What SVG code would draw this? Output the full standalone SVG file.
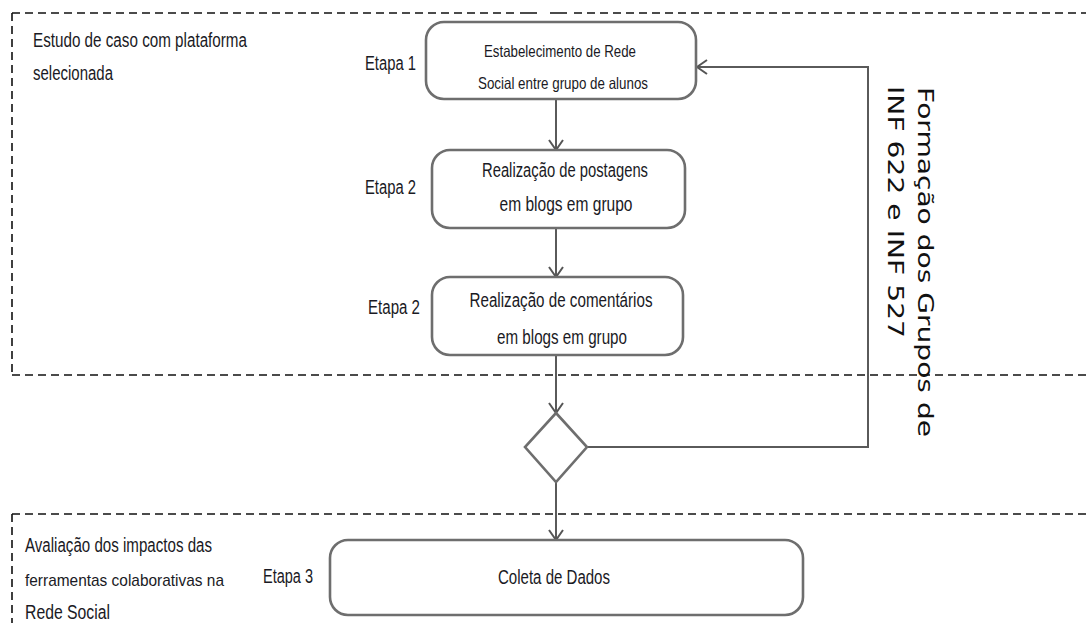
<svg xmlns="http://www.w3.org/2000/svg" width="1086" height="623" viewBox="0 0 1086 623">
  <defs>
    <marker id="arrow" viewBox="0 0 12 16" refX="11" refY="8" markerWidth="12" markerHeight="16" markerUnits="userSpaceOnUse" orient="auto">
      <path d="M1,1 L11,8 L1,15" fill="none" stroke="#555" stroke-width="2"/>
    </marker>
  </defs>
  <style>
    .dash { fill: none; stroke: #111; stroke-width: 1.6; stroke-dasharray: 8 5; }
    .solid { fill: none; stroke: #111; stroke-width: 1.6; }
    .box { fill: #fff; stroke: #6e6e6e; stroke-width: 2.6; }
    .conn { fill: none; stroke: #5a5a5a; stroke-width: 2; }
    .t { font-family: "Liberation Sans", Arial, sans-serif; fill: #1a1a24; }
    .lbl { font-size: 19.5px; }
    .small { font-size: 16.5px; }
    .mid { font-size: 19.5px; }
    .rot { font-family: "DejaVu Sans", Verdana, sans-serif; font-size: 21px; fill: #111; }
  </style>

  <rect width="1086" height="623" fill="#fff"/>

  <!-- swimlane frames -->
  <g id="lane-estudo">
    <path class="dash" d="M12,13 H514"/>
    <path class="solid" d="M520,13 H537 M550,13 H567"/>
    <path class="dash" d="M574,13 H1086"/>
    <path class="dash" d="M12,13 V375"/>
    <path class="dash" d="M12,375 H1086"/>
    <text class="t lbl" x="33" y="47" textLength="214" lengthAdjust="spacingAndGlyphs">Estudo de caso com plataforma</text>
    <text class="t lbl" x="33" y="80" textLength="80" lengthAdjust="spacingAndGlyphs">selecionada</text>
  </g>
  <g id="lane-avaliacao">
    <path class="dash" d="M12,514 H1086"/>
    <path class="dash" d="M12,514 V623"/>
    <text class="t lbl" x="25" y="552" textLength="187" lengthAdjust="spacingAndGlyphs">Avaliação dos impactos das</text>
    <text class="t" font-size="17" x="25" y="586" textLength="199" lengthAdjust="spacingAndGlyphs">ferramentas colaborativas na</text>
    <text class="t lbl" x="25" y="619" textLength="85" lengthAdjust="spacingAndGlyphs">Rede Social</text>
  </g>

  <!-- connectors -->
  <g id="connectors">
    <path class="conn" d="M556,99 V150" marker-end="url(#arrow)"/>
    <path class="conn" d="M556,228 V277" marker-end="url(#arrow)"/>
    <path class="conn" d="M556,355 V413" marker-end="url(#arrow)"/>
    <path class="conn" d="M587,447 H868 V67 H697" marker-end="url(#arrow)"/>
    <path class="conn" d="M556,482 V540" marker-end="url(#arrow)"/>
  </g>

  <!-- activities -->
  <g id="etapa1">
    <rect class="box" x="426" y="22" width="270" height="77" rx="18"/>
    <text class="t small" x="560" y="57" text-anchor="middle" textLength="152" lengthAdjust="spacingAndGlyphs">Estabelecimento de Rede</text>
    <text class="t small" x="563" y="89" text-anchor="middle" textLength="170" lengthAdjust="spacingAndGlyphs">Social entre grupo de alunos</text>
    <text class="t mid" x="365" y="70" textLength="51" lengthAdjust="spacingAndGlyphs">Etapa 1</text>
  </g>
  <g id="etapa2-postagens">
    <rect class="box" x="432" y="150" width="253" height="78" rx="18"/>
    <text class="t mid" x="565" y="177" text-anchor="middle" textLength="166" lengthAdjust="spacingAndGlyphs">Realização de postagens</text>
    <text class="t mid" x="566" y="211" text-anchor="middle" textLength="133" lengthAdjust="spacingAndGlyphs">em blogs em grupo</text>
    <text class="t mid" x="365" y="194" textLength="51" lengthAdjust="spacingAndGlyphs">Etapa 2</text>
  </g>
  <g id="etapa2-comentarios">
    <rect class="box" x="432" y="277" width="251" height="78" rx="18"/>
    <text class="t mid" x="561" y="307" text-anchor="middle" textLength="183" lengthAdjust="spacingAndGlyphs">Realização de comentários</text>
    <text class="t mid" x="562" y="344" text-anchor="middle" textLength="130" lengthAdjust="spacingAndGlyphs">em blogs em grupo</text>
    <text class="t mid" x="368" y="314" textLength="52" lengthAdjust="spacingAndGlyphs">Etapa 2</text>
  </g>
  <g id="decisao">
    <path class="box" d="M556,413 L587,447 L556,482 L525,447 Z" stroke-width="2.4"/>
  </g>
  <g id="etapa3">
    <rect class="box" x="330" y="540" width="473" height="75" rx="18"/>
    <text class="t mid" x="554" y="584" text-anchor="middle" textLength="112" lengthAdjust="spacingAndGlyphs">Coleta de Dados</text>
    <text class="t mid" x="263" y="583" textLength="50" lengthAdjust="spacingAndGlyphs">Etapa 3</text>
  </g>

  <!-- vertical group label -->
  <g id="grupos">
    <text class="rot" transform="translate(918,87) rotate(90)" textLength="350" lengthAdjust="spacingAndGlyphs">Formação dos Grupos de</text>
    <text class="rot" transform="translate(888,86) rotate(90)" textLength="252" lengthAdjust="spacingAndGlyphs">INF 622 e INF 527</text>
  </g>
</svg>
